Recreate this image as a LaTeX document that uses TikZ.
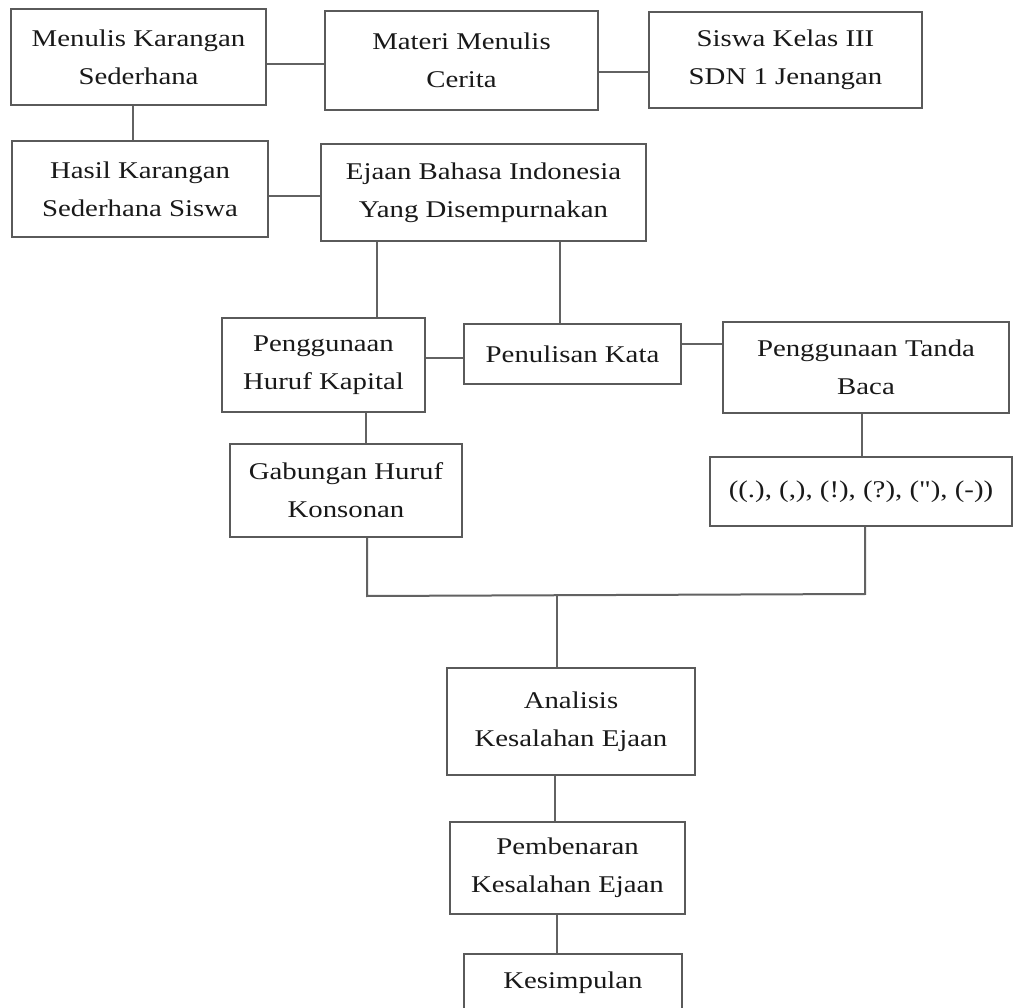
\documentclass[tikz,border=0pt]{standalone}
\usepackage{fontspec}
\setmainfont{Liberation Serif}[FakeStretch=1.2, Ligatures=TeXOff]
\definecolor{boxgray}{HTML}{5A5A5A}
\definecolor{linegray}{HTML}{626262}
\begin{document}
\begin{tikzpicture}[x=1pt,y=-1pt,
  box/.style={draw=boxgray, line width=2pt, inner sep=0pt, align=center,
    text=black!90, font=\fontsize{24}{38}\selectfont},
  link/.style={draw=linegray, line width=2pt}]
\useasboundingbox (0,0) rectangle (1013,1008);
\fill[white] (0,0) rectangle (1013,1008);

% boxes
\node[box, minimum width=255pt, minimum height=96pt] (A) at (138.5,57) {Menulis Karangan\\Sederhana};
\node[box, minimum width=273pt, minimum height=99pt] (B) at (461.5,60.5) {Materi Menulis\\Cerita};
\node[box, minimum width=273pt, minimum height=96pt] (C) at (785.5,60) {Siswa Kelas III\\SDN 1 Jenangan};
\node[box, minimum width=256pt, minimum height=96pt] (D) at (140,189) {Hasil Karangan\\Sederhana Siswa};
\node[box, minimum width=325pt, minimum height=97pt] (E) at (483.5,192.5) {Ejaan Bahasa Indonesia\\Yang Disempurnakan};
\node[box, minimum width=203pt, minimum height=94pt] (F) at (323.5,365) {Penggunaan\\Huruf Kapital};
\node[box, minimum width=217pt, minimum height=60pt] (G) at (572.5,354) {Penulisan Kata};
\node[box, minimum width=286pt, minimum height=91pt] (H) at (866,367.5) {Penggunaan Tanda\\Baca};
\node[box, minimum width=302pt, minimum height=69pt] (J) at (861,491.5) {((.), (,), (!), (?), ("), (-))};
\node[box, minimum width=232pt, minimum height=93pt] (I) at (346,490.5) {Gabungan Huruf\\Konsonan};
\node[box, minimum width=248pt, minimum height=107pt] (K) at (571,721.5) {Analisis\\Kesalahan Ejaan};
\node[box, minimum width=235pt, minimum height=92pt] (L) at (567.5,868) {Pembenaran\\Kesalahan Ejaan};
\node[box, minimum width=218pt, minimum height=58pt] (M) at (573,983) {Kesimpulan};

% helper coordinates
\coordinate (yAB) at (0,64);
\coordinate (yBC) at (0,72);
\coordinate (xAD) at (133,0);
\coordinate (yDE) at (0,196);
\coordinate (xEF) at (377,0);
\coordinate (xEG) at (560,0);
\coordinate (yFG) at (0,358);
\coordinate (yGH) at (0,344);
\coordinate (xFI) at (366,0);
\coordinate (xHJ) at (862,0);
\coordinate (busL) at (367,596);
\coordinate (busR) at (865,594);
\coordinate (busM) at (557,595);
\coordinate (xKL) at (555,0);
\coordinate (xLM) at (557,0);

% connectors
\draw[link] (A.east |- yAB) -- (B.west |- yAB);
\draw[link] (B.east |- yBC) -- (C.west |- yBC);
\draw[link] (A.south -| xAD) -- (D.north -| xAD);
\draw[link] (D.east |- yDE) -- (E.west |- yDE);
\draw[link] (E.south -| xEF) -- (F.north -| xEF);
\draw[link] (E.south -| xEG) -- (G.north -| xEG);
\draw[link] (F.east |- yFG) -- (G.west |- yFG);
\draw[link] (G.east |- yGH) -- (H.west |- yGH);
\draw[link] (F.south -| xFI) -- (I.north -| xFI);
\draw[link] (H.south -| xHJ) -- (J.north -| xHJ);
\draw[link] (I.south -| busL) -- (busL) -- (busR) -- (J.south -| busR);
\draw[link] (busM) -- (K.north -| busM);
\draw[link] (K.south -| xKL) -- (L.north -| xKL);
\draw[link] (L.south -| xLM) -- (M.north -| xLM);
\end{tikzpicture}
\end{document}
